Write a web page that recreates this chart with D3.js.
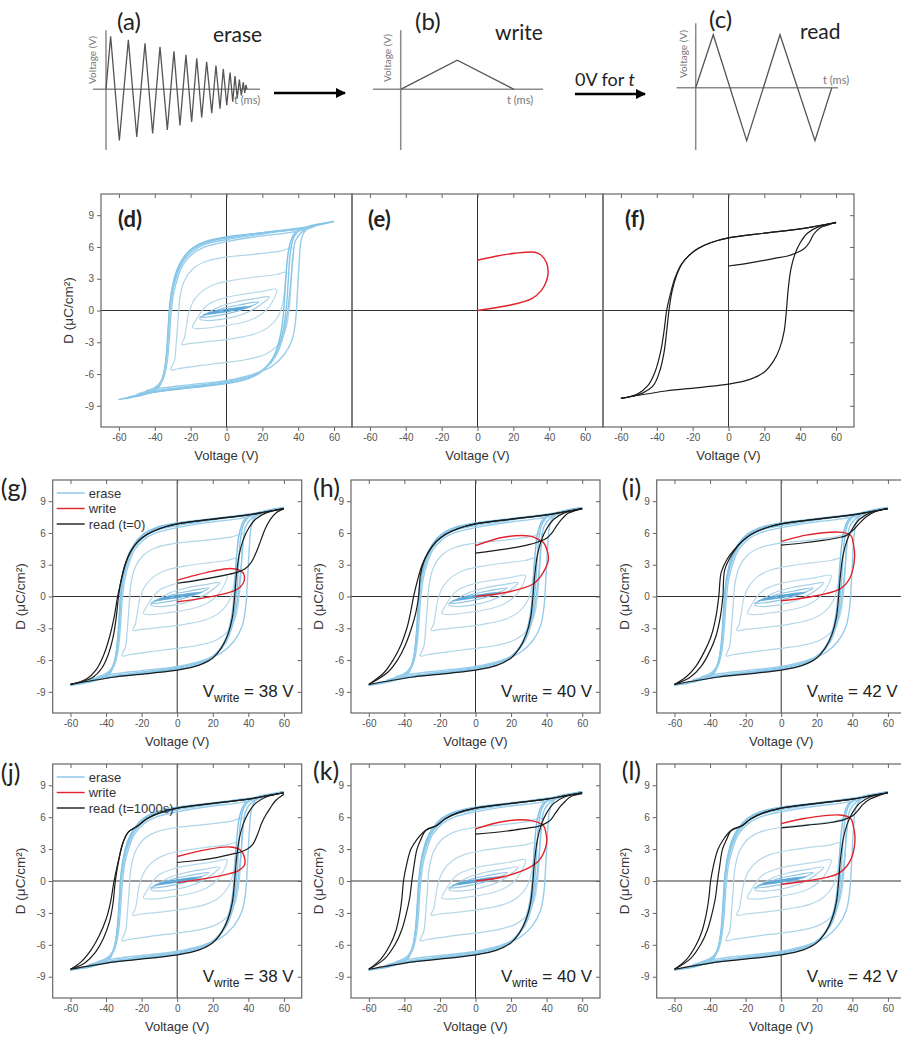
<!DOCTYPE html>
<html>
<head>
<meta charset="utf-8">
<script src="https://cdn.jsdelivr.net/npm/d3@7"></script>
<style>
  body { margin: 0; background: #fff; }
  text { font-family: "Liberation Sans", Arial, sans-serif; }
  .cal { font-family: Lato, "Open Sans", sans-serif; }
</style>
</head>
<body>
<div id="chart"></div>
<script>
// ---------- data ----------
const xTicks = [-60, -40, -20, 0, 20, 40, 60];
const yTicks = [-9, -6, -3, 0, 3, 6, 9];

// pulse trains (t in ms, arbitrary; V in volts)
const eraseWaveT = [0, 3.1, 8.9, 14.9, 20.5, 26, 31.1, 36, 40.9, 45.3, 49.3, 53.3, 57.1, 60.5, 63.8, 67.1,
  70.5, 73.3, 76, 78.2, 80.5, 82.7, 84.5, 86, 87.5, 88.9, 90.2, 91.5, 92.5, 93.3, 94];
const eraseWaveV = [0, 60, -58, 56, -54, 52, -50, 48, -46, 43, -41, 39, -37, 35, -32, 31,
  -27, 27, -22, 23, -18, 19, -14, 15, -10, 11, -7, 8, -4, 5, 0];
const writeWaveT = [0, 37.7, 75.5];
const writeWaveV = [0, 33, 0];
const readWaveT = [0, 11.7, 34, 56.2, 79.5, 90.7];
const readWaveV = [0, 60, -60, 60, -60, 0];

// erase loops (V, D): saturated loops run tip -> tip (open), minor loops are closed
const eraseSat = [
  [[60,8.4],[50,8.05],[40,7.7],[20,7.35],[0,6.95],[-12,6.5],[-19,5.9],[-24,5.0],[-27.5,3.9],[-30,2.4],[-31.5,0.8],[-32.5,-1.5],[-33.5,-4],[-35,-6],[-38,-7.3],[-45,-7.9],[-60,-8.4],
   [-50,-8.05],[-40,-7.7],[-20,-7.3],[0,-6.9],[12,-6.45],[19,-5.85],[24,-5.0],[27.5,-3.9],[30,-2.4],[31.5,-0.8],[32.5,1.5],[33.5,4],[35,6],[38,7.3],[45,7.9],[60,8.4]],
  [[55,8.2],[45,7.9],[30,7.55],[0,6.85],[-12,6.4],[-19,5.8],[-24,4.9],[-27.5,3.7],[-30,2.2],[-31.5,0.5],[-32.5,-2],[-33.5,-4.5],[-35.5,-6.3],[-39,-7.3],[-46,-7.8],[-55,-8.2],
   [-45,-7.85],[-30,-7.45],[0,-6.8],[14,-6.2],[21,-5.5],[26,-4.5],[29.5,-3.2],[32,-1.5],[33.5,0.5],[34.5,3],[35.5,5.3],[37.5,6.9],[41,7.6],[48,7.95],[55,8.2]],
  [[50,8.0],[40,7.7],[25,7.35],[0,6.7],[-12,6.25],[-19,5.6],[-24,4.7],[-27.5,3.4],[-30,1.9],[-31.5,0],[-32.5,-2.6],[-34,-5],[-36.5,-6.7],[-41,-7.4],[-50,-7.9],
   [-40,-7.6],[-25,-7.25],[0,-6.7],[14,-6.15],[22,-5.4],[27.5,-4.3],[31,-2.8],[33.5,-0.8],[35.5,2],[37,4.8],[38.5,6.6],[42,7.4],[50,8.0]],
  [[45,7.7],[35,7.35],[20,7.05],[0,6.5],[-12,6.0],[-19,5.35],[-24,4.4],[-27,3.2],[-29.5,1.6],[-31,-0.5],[-32,-3],[-33.5,-5.3],[-36,-6.7],[-40,-7.3],[-45,-7.6],
   [-35,-7.3],[-20,-7.0],[0,-6.6],[15,-6.0],[25,-5.3],[32,-4.2],[36.5,-2.8],[38.5,-1],[39.5,1.5],[40.5,4.5],[41.5,6.5],[43,7.3],[45,7.7]]
];
const eraseMinor = [
  [[37,5.9],[30,5.6],[15,5.3],[0,5.05],[-12,4.6],[-19,3.9],[-23.5,2.8],[-26,1.2],[-27,-0.8],[-28,-3],[-29,-4.7],[-31,-5.6],
   [-27,-5.5],[-15,-5.2],[0,-4.9],[12,-4.6],[22,-4.1],[29,-3.2],[33,-1.8],[35,0.2],[36,2.6],[36.5,4.6]],
  [[33.5,3.6],[28,3.4],[18,3.2],[5,2.9],[-6,2.5],[-13,1.9],[-18,1.0],[-21,-0.2],[-22.5,-1.6],[-23.5,-2.6],[-25,-3.2],
   [-20,-3.1],[-8,-2.9],[5,-2.6],[16,-2.2],[24,-1.5],[29,-0.5],[31.5,0.8],[32.5,2.0],[33,3.0]],
  [[28,2.0],[20,1.8],[8,1.5],[-3,1.1],[-10,0.6],[-14,-0.1],[-17,-0.9],[-19,-1.6],
   [-14,-1.7],[-4,-1.5],[7,-1.2],[16,-0.7],[22,0],[25.5,0.8],[27.5,1.5]],
  [[24,1.3],[15,1.1],[5,0.8],[-4,0.35],[-10,-0.2],[-15,-0.8],[-10,-0.95],[0,-0.75],[9,-0.35],[16,0.2],[21,0.8]],
  [[18,0.8],[8,0.55],[-2,0.2],[-10,-0.3],[-15,-0.65],[-6,-0.5],[4,-0.15],[12,0.3]],
  [[14,0.4],[4,0.2],[-6,-0.1],[-13,-0.4],[-4,-0.2],[6,0.1]],
  [[10,0.25],[0,0.08],[-10,-0.25],[0,-0.08]]
];
const satColors = ["#7fc2e6", "#86c6e8", "#8dc9e9", "#98cdea"];
const minorColors = ["#afd4e8", "#b7d8e9", "#b9d9ea", "#a9d0e6", "#8ec3e3", "#6fb2dc", "#5aa6d6"];

// read (black) shared branches
const readTop = [[60,8.3],[50,8.0],[40,7.7],[20,7.3],[0,6.85],[-10,6.4],[-17,5.85],[-22,5.2]];
const readLower = [[-60,-8.3],[-50,-8.0],[-35,-7.6],[-15,-7.25],[0,-6.95],[12,-6.5],[20,-5.8],[25,-4.8],[28.5,-3.6],[31,-2.0],
  [32.3,0],[33.3,2.0],[34.8,3.9],[37,5.3],[40,6.4],[44,7.3],[50,7.9],[60,8.3]];

// per panel read parts: first rise from the written state, and the two left switching branches
const riseF = [[0,4.2],[12,4.5],[25,4.9],[33,5.15],[38,5.45],[42,5.8],[45,6.4],[47.5,7.2],[51,7.8],[56,8.1],[60,8.35]];
const leftAF = [[-22,5.2],[-26,4.4],[-29,3.3],[-31.5,1.8],[-33.2,0],[-34.5,-2],[-36,-4],[-38.5,-5.8],[-42,-7.1],[-48,-7.8],[-60,-8.3]];
const leftBF = [[-22,5.2],[-26.5,4.3],[-30,3.0],[-32.5,1.5],[-34.5,0],[-36,-2],[-38,-4],[-41,-5.8],[-45,-7.1],[-51,-7.9],[-60,-8.3]];

const riseG = [[0,1.25],[12,1.55],[25,1.95],[33,2.25],[38,2.6],[41.5,3.2],[44.5,4.2],[47,5.3],[49.5,6.4],[52.5,7.3],[56,7.95],[60,8.3]];
const leftAG = [[-22,5.2],[-26,4.3],[-29,3.2],[-31.5,1.6],[-33,0],[-34.3,-2],[-36,-3.8],[-38.8,-5.5],[-42.5,-6.8],[-48,-7.7],[-60,-8.3]];
const leftBG = [[-22,5.2],[-26,4.3],[-29,3.1],[-31.5,1.5],[-33.5,0],[-35.5,-2],[-38,-3.8],[-41.5,-5.6],[-45.5,-6.9],[-51,-7.8],[-60,-8.3]];

const riseH = [[0,4.1],[17.6,4.5],[30,4.9],[35,5.15],[40,5.5],[43,6.0],[45.7,6.7],[48.5,7.3],[52,7.85],[56,8.1],[60,8.3]];
const leftAH = [[-22,5.2],[-26,4.3],[-29,3.3],[-31,2.0],[-32,0],[-33.5,-1.5],[-36,-3.0],[-39.5,-4.6],[-43.5,-5.9],[-49,-7.1],[-60,-8.3]];
const leftBH = [[-22,5.2],[-26.5,4.2],[-30,3.0],[-32.5,1.6],[-34.8,0],[-36.5,-1.5],[-38.6,-3.0],[-42,-4.6],[-46,-5.9],[-51.5,-7.2],[-60,-8.3]];

const riseI = [[0,4.85],[12,5.05],[23.4,5.3],[32,5.55],[36.5,5.75],[41.2,6.4],[44.5,7.0],[47.7,7.5],[53.3,8.05],[60,8.3]];
const leftAI = [[-22,5.2],[-26,4.4],[-29,3.6],[-31.8,2.5],[-32.8,0],[-34.3,-2],[-36.8,-3.8],[-40.5,-5.3],[-45,-6.6],[-51,-7.6],[-60,-8.3]];
const leftBI = [[-22,5.2],[-27,4.3],[-30.5,3.5],[-33.7,2.3],[-35.1,0],[-36.8,-2],[-39.5,-3.8],[-43.5,-5.3],[-48,-6.6],[-53.5,-7.6],[-60,-8.3]];

const riseJ = [[0,1.74],[12,1.95],[22.2,2.2],[30,2.5],[35.2,2.7],[39.5,3.0],[42.7,3.5],[45.2,4.4],[47.4,5.4],[49.8,6.2],[52.1,6.8],[55,7.5],[60,8.15]];
const leftAJ = [[-22,5.2],[-27.5,4.6],[-30.5,3.6],[-32.2,2.5],[-34.8,0],[-36,-2],[-38,-3.8],[-41.5,-5.4],[-46,-6.7],[-52,-7.7],[-60,-8.3]];
const leftBJ = [[-22,5.2],[-27.5,4.6],[-30.5,3.6],[-32.5,2.3],[-35.5,0],[-37.5,-2],[-40,-3.6],[-44,-5.2],[-48.5,-6.5],[-54,-7.6],[-60,-8.3]];

const riseK = [[0,4.4],[17.6,4.7],[30,5.0],[34.5,5.1],[38.5,5.35],[42,5.7],[45,6.4],[47.6,7.0],[50.5,7.5],[53.2,7.9],[60,8.2]];
const leftAK = [[-22,5.2],[-27.8,4.8],[-31,3.8],[-32.9,3.0],[-34.5,1.5],[-35.8,0],[-37,-1.6],[-38.8,-3],[-41.5,-4.6],[-45,-5.9],[-51,-7.3],[-60,-8.3]];
const leftBK = [[-22,5.2],[-28.5,4.7],[-33,3.9],[-36.3,3.0],[-38.8,1.5],[-40.5,0],[-41.3,-1.5],[-42.5,-3],[-44.8,-4.7],[-48,-6.0],[-53.5,-7.4],[-60,-8.3]];

const riseL = [[0,5.0],[15,5.25],[28,5.5],[35,5.75],[40,6.1],[43,6.6],[46,7.2],[50,7.7],[55,8.05],[60,8.3]];
const leftAL = [[-22,5.2],[-27.8,4.8],[-31,3.8],[-33,3.0],[-34.5,1.5],[-35.8,0],[-37,-1.6],[-38.8,-3],[-41.5,-4.6],[-45,-5.9],[-51,-7.3],[-60,-8.3]];
const leftBL = [[-22,5.2],[-28.5,4.7],[-32.5,3.9],[-35.5,3.0],[-38,1.5],[-39.7,0],[-40.6,-1.5],[-42,-3],[-44.5,-4.7],[-47.8,-6.0],[-53.3,-7.4],[-60,-8.3]];

// write (red) loops
const writeE = [[0,0],[17,0.47],[30,1.1],[35.7,1.9],[38.5,2.8],[39.4,3.6],[38.5,4.5],[35.7,5.2],[32,5.5],[20.8,5.4],[9.6,5.1],[0,4.75]];
const writeG = [[0,-0.5],[12.8,-0.2],[25,0.2],[31.5,0.5],[35.5,0.9],[37.7,1.5],[37.5,2.1],[35,2.5],[29.6,2.65],[20,2.4],[10,2.0],[0,1.55]];
const writeH = [[0,0],[17.6,0.4],[32.6,1.2],[38.2,2.3],[41,3.5],[40,4.5],[38.2,5.1],[34,5.5],[30.7,5.7],[15.7,5.6],[0,4.8]];
const writeI = [[0,-0.4],[14,-0.1],[32.9,0.7],[38.5,1.7],[41.3,3.8],[40.5,5.0],[39.4,5.7],[34.7,6.05],[14,5.8],[0,5.2]];
const writeJ = [[0,-0.15],[16.5,0.25],[29.6,0.7],[34.2,0.95],[37.8,1.5],[37.5,2.4],[35.2,2.95],[29.6,3.2],[16.5,2.95],[0,2.3]];
const writeK = [[0,0],[15.7,0.4],[30.7,1.3],[36.3,2.05],[40,3.6],[39.5,4.6],[38.2,5.2],[30.7,5.7],[15.7,5.6],[0,4.9]];
const writeL = [[0,-0.3],[14,0],[32,0.7],[38.5,1.8],[41.5,3.8],[40.5,5.2],[39,5.9],[33,6.2],[14,5.9],[0,5.4]];

const legendNames = ["erase", "write"];

// ---------- setup ----------
const svg = d3.select("#chart").append("svg")
  .attr("width", 901).attr("height", 1038)
  .style("background", "#fff");

const writeColor = "#e2232b";
const readColor = "#1b1b1b";
const axisGray = "#666";

// ---------- top row: pulse trains ----------
function mini(cfg) {
  const t = d3.scaleLinear().domain([0, 100]).range([cfg.x0, cfg.x0 + 150]);
  const v = d3.scaleLinear().domain([-70, 70]).range([cfg.y0 + 61.8, cfg.y0 - 61.8]);
  const g = svg.append("g");
  g.append("line").attr("x1", t(cfg.tMin)).attr("x2", t(cfg.tMax)).attr("y1", v(0)).attr("y2", v(0))
    .attr("stroke", "#8a8a8a").attr("stroke-width", 1.5);
  g.append("line").attr("x1", t(0)).attr("x2", t(0)).attr("y1", v(cfg.vMax)).attr("y2", v(cfg.vMin))
    .attr("stroke", "#8a8a8a").attr("stroke-width", 1.5);
  const pts = cfg.T.map((d, i) => [d, cfg.V[i]]);
  g.append("path").datum(pts)
    .attr("d", d3.line().x(d => t(d[0])).y(d => v(d[1])))
    .attr("fill", "none").attr("stroke", "#555").attr("stroke-width", 1.3);
  g.append("text").attr("class", "cal")
    .attr("transform", `translate(${t(0) - cfg.vlabDx},${cfg.vlabY}) rotate(-90)`)
    .attr("text-anchor", "middle").style("font-size", "10px").attr("fill", "#777")
    .text("Voltage (V)");
  g.append("text").attr("class", "cal")
    .attr("x", cfg.tlabX).attr("y", cfg.tlabY)
    .style("font-size", "11px").attr("fill", "#777").text("t (ms)");
  g.append("text").attr("class", "cal").attr("x", cfg.labX).attr("y", cfg.labY)
    .style("font-size", "24px").attr("fill", "#222").text(cfg.label);
  g.append("text").attr("class", "cal").attr("x", cfg.nameX).attr("y", cfg.nameY)
    .style("font-size", "21px").attr("fill", "#222").text(cfg.name);
}

mini({ x0: 106, y0: 89.3, T: eraseWaveT, V: eraseWaveV, tMin: -8.7, tMax: 102.7, vMax: 67, vMin: -68.7,
  vlabDx: 10, vlabY: 60, tlabX: 234, tlabY: 104, label: "(a)", labX: 117, labY: 30, name: "erase", nameX: 213, nameY: 42 });
mini({ x0: 400.7, y0: 89.3, T: writeWaveT, V: writeWaveV, tMin: -18.5, tMax: 94.9, vMax: 67, vMin: -68.7,
  vlabDx: 10, vlabY: 58, tlabX: 507, tlabY: 104, label: "(b)", labX: 415, labY: 30, name: "write", nameX: 495, nameY: 40 });
mini({ x0: 695.7, y0: 87.7, T: readWaveT, V: readWaveV, tMin: -12.7, tMax: 94.9, vMax: 73, vMin: -70.6,
  vlabDx: 9, vlabY: 54, tlabX: 823, tlabY: 84, label: "(c)", labX: 709, labY: 28, name: "read", nameX: 800, nameY: 39 });

// arrows
const defs = svg.append("defs");
defs.append("marker").attr("id", "ah").attr("viewBox", "0 0 10 10").attr("refX", 9).attr("refY", 5)
  .attr("markerWidth", 4).attr("markerHeight", 4).attr("orient", "auto")
  .append("path").attr("d", "M0,0 L10,5 L0,10 z").attr("fill", "#000");
svg.append("line").attr("x1", 274).attr("x2", 345).attr("y1", 93).attr("y2", 93)
  .attr("stroke", "#000").attr("stroke-width", 2.6).attr("marker-end", "url(#ah)");
svg.append("line").attr("x1", 575).attr("x2", 645).attr("y1", 94).attr("y2", 94)
  .attr("stroke", "#000").attr("stroke-width", 2.6).attr("marker-end", "url(#ah)");
const ovt = svg.append("text").attr("class", "cal").attr("x", 575).attr("y", 86)
  .style("font-size", "18px").attr("fill", "#222");
ovt.append("tspan").text("0V for ");
ovt.append("tspan").style("font-style", "italic").text("t");

// ---------- P-V panels ----------
const panels = [
  { x: 101, y: 194, w: 251, h: 233, label: "(d)", bold: true, lab: [17, 33], erase: true, yLabels: true, rightTicks: false },
  { x: 352, y: 194, w: 251, h: 233, label: "(e)", bold: true, lab: [16, 33], write: writeE, yLabels: false, rightTicks: false },
  { x: 603, y: 194, w: 251, h: 233, label: "(f)", bold: true, lab: [22, 33], rise: riseF, leftA: leftAF, leftB: leftBF, yLabels: false, rightTicks: true },
  { x: 52.7, y: 480, w: 249, h: 233, label: "(g)", lab: [-52, 17], erase: true, write: writeG, rise: riseG, leftA: leftAG, leftB: leftBG, vw: 38, legend: "read (t=0)", yLabels: true, rightTicks: true },
  { x: 351, y: 480, w: 249, h: 233, label: "(h)", lab: [-38, 17], erase: true, write: writeH, rise: riseH, leftA: leftAH, leftB: leftBH, vw: 40, yLabels: true, rightTicks: true },
  { x: 656.7, y: 480, w: 249, h: 233, label: "(i)", lab: [-35, 17], erase: true, write: writeI, rise: riseI, leftA: leftAI, leftB: leftBI, vw: 42, yLabels: true, rightTicks: true },
  { x: 52.7, y: 764, w: 249, h: 234, label: "(j)", lab: [-52, 18], erase: true, write: writeJ, rise: riseJ, leftA: leftAJ, leftB: leftBJ, vw: 38, legend: "read (t=1000s)", yLabels: true, rightTicks: true },
  { x: 351, y: 764, w: 249, h: 234, label: "(k)", lab: [-38, 16], erase: true, write: writeK, rise: riseK, leftA: leftAK, leftB: leftBK, vw: 40, yLabels: true, rightTicks: true },
  { x: 656.7, y: 764, w: 249, h: 234, label: "(l)", lab: [-35, 16], erase: true, write: writeL, rise: riseL, leftA: leftAL, leftB: leftBL, vw: 42, yLabels: true, rightTicks: true }
];

panels.forEach((p, i) => {
  const g = svg.append("g").attr("transform", `translate(${p.x},${p.y})`);
  const x = d3.scaleLinear().domain([-70, 70]).range([0, p.w]);
  const y = d3.scaleLinear().domain([-11, 11]).range([p.h, 0]);
  const line = d3.line().x(d => x(d[0])).y(d => y(d[1])).curve(d3.curveCatmullRom.alpha(0.5));
  const loopLine = d3.line().x(d => x(d[0])).y(d => y(d[1])).curve(d3.curveCatmullRomClosed.alpha(0.5));

  defs.append("clipPath").attr("id", "clip" + i)
    .append("rect").attr("width", p.w).attr("height", p.h);
  const plot = g.append("g").attr("clip-path", `url(#clip${i})`);

  // zero lines
  plot.append("line").attr("x1", 0).attr("x2", p.w).attr("y1", y(0)).attr("y2", y(0))
    .attr("stroke", "#333").attr("stroke-width", 1);
  plot.append("line").attr("x1", x(0)).attr("x2", x(0)).attr("y1", 0).attr("y2", p.h)
    .attr("stroke", "#333").attr("stroke-width", 1);

  if (p.erase) {
    plot.selectAll(".minor").data(eraseMinor).join("path")
      .attr("d", loopLine).attr("fill", "none")
      .attr("stroke", (d, k) => minorColors[k]).attr("stroke-width", 1.2);
    plot.selectAll(".sat").data(eraseSat).join("path")
      .attr("d", line).attr("fill", "none")
      .attr("stroke", (d, k) => satColors[k]).attr("stroke-width", 1.4);
  }
  if (p.write) {
    plot.append("path").datum(p.write).attr("d", line)
      .attr("fill", "none").attr("stroke", writeColor).attr("stroke-width", 1.4);
  }
  if (p.rise) {
    [p.rise, readTop.concat(p.leftA.slice(1)), readTop.concat(p.leftB.slice(1)), readLower].forEach(seg => {
      plot.append("path").datum(seg).attr("d", line)
        .attr("fill", "none").attr("stroke", readColor).attr("stroke-width", 1.2);
    });
  }

  // axes
  const styleAxis = a => {
    a.select(".domain").remove();
    a.selectAll(".tick line").attr("stroke", axisGray);
    a.selectAll(".tick text").attr("fill", "#555").style("font-size", "10px")
      .style("font-family", '"Liberation Sans", Arial, sans-serif');
  };
  g.append("g").attr("transform", `translate(0,${p.h})`)
    .call(d3.axisBottom(x).tickValues(xTicks).tickSize(4).tickPadding(3).tickFormat(d => String(d)))
    .call(styleAxis);
  g.append("g")
    .call(d3.axisTop(x).tickValues(xTicks).tickSize(-4).tickFormat(""))
    .call(styleAxis);
  if (p.yLabels) {
    g.append("g")
      .call(d3.axisLeft(y).tickValues(yTicks).tickSize(4).tickPadding(3).tickFormat(d => String(d)))
      .call(styleAxis);
  }
  if (p.rightTicks) {
    g.append("g").attr("transform", `translate(${p.w},0)`)
      .call(d3.axisRight(y).tickValues(yTicks).tickSize(-4).tickFormat(""))
      .call(styleAxis);
  }
  g.append("rect").attr("width", p.w).attr("height", p.h)
    .attr("fill", "none").attr("stroke", axisGray).attr("stroke-width", 1.2);

  // axis titles
  g.append("text").attr("x", p.w / 2).attr("y", p.h + 33).attr("text-anchor", "middle")
    .style("font-size", "13px").attr("fill", "#333").text("Voltage (V)");
  if (p.yLabels) {
    g.append("text").attr("transform", `translate(${-28},${p.h / 2}) rotate(-90)`)
      .attr("text-anchor", "middle").style("font-size", "13.5px").attr("fill", "#333")
      .text("D (μC/cm²)");
  }

  // panel letter
  g.append("text").attr("class", "cal").attr("x", p.lab[0]).attr("y", p.lab[1])
    .style("font-size", p.bold ? "22px" : "25px").style("font-weight", p.bold ? 700 : 400)
    .attr("fill", "#222").text(p.label);

  // V_write label
  if (p.vw) {
    const t = g.append("text").attr("x", p.w - 8).attr("y", p.h - 16).attr("text-anchor", "end")
      .style("font-size", "17px").attr("fill", "#222");
    t.append("tspan").text("V");
    t.append("tspan").attr("dy", 5).style("font-size", "12px").text("write");
    t.append("tspan").attr("dy", -5).text(" = " + p.vw + " V");
  }

  // legend
  if (p.legend) {
    const items = [
      { name: legendNames[0], color: satColors[1] },
      { name: legendNames[1], color: writeColor },
      { name: p.legend, color: readColor }
    ];
    items.forEach((it, k) => {
      const yy = 13 + k * 15.5;
      g.append("line").attr("x1", 4).attr("x2", 32).attr("y1", yy).attr("y2", yy)
        .attr("stroke", it.color).attr("stroke-width", 1.4);
      g.append("text").attr("x", 36).attr("y", yy + 4.5)
        .style("font-size", "13px").attr("fill", "#333").text(it.name);
    });
  }
});
</script>
</body>
</html>
